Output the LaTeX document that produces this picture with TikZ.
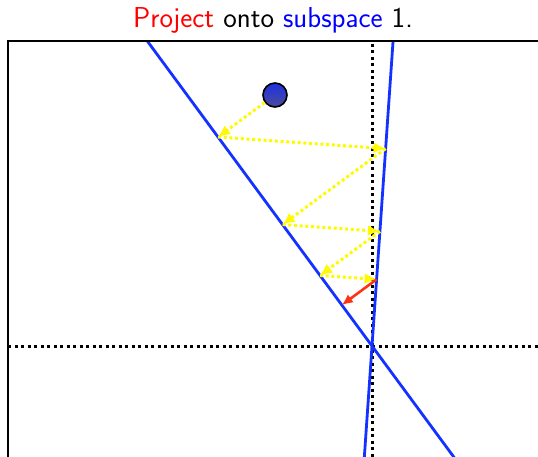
\documentclass[tikz,border=0pt]{standalone}
\usepackage{fontspec}
\usetikzlibrary{calc,arrows.meta}
\definecolor{lineblue}{RGB}{20,50,255}
\definecolor{projyellow}{RGB}{255,250,0}
\definecolor{projred}{RGB}{255,50,20}
\definecolor{titleblue}{RGB}{0,0,255}
\definecolor{titlered}{RGB}{255,0,0}
\definecolor{balltop}{RGB}{30,50,225}
\definecolor{ballbottom}{RGB}{75,75,155}
\begin{document}
\begin{tikzpicture}[x=1pt,y=-1pt,
  axis/.style={line width=3pt, dash pattern=on 3pt off 3.5pt},
  subspace/.style={draw=lineblue, line width=2.8pt},
  yproj/.style={draw=projyellow, line width=3pt, dash pattern=on 3pt off 2.7pt, -{Latex[length=12pt,width=11pt]}},
  rproj/.style={draw=projred, line width=2.6pt, -{Latex[length=11pt,width=10pt]}},
  ballstyle/.style={circle, draw=black, line width=1.6pt, minimum size=24pt, inner sep=0pt, top color=balltop, bottom color=ballbottom},
  framestyle/.style={line width=1.6pt}]
\useasboundingbox (0,0) rectangle (538,457);
\node[anchor=base, inner sep=0pt, font=\fontsize{28.8}{34}\selectfont\sffamily] (title) at (273,28)
  {\textcolor{titlered}{Project} onto \textcolor{titleblue}{subspace} 1.};
\coordinate (O) at (372,346);
\coordinate (A1) at (148,42);
\coordinate (A2) at (393,42);
\coordinate (FL) at (8,346);
\coordinate (FR) at (540,346);
\coordinate (FT) at (372,44);
\coordinate (FB) at (372,460);
\coordinate (C1) at (8,460);
\coordinate (C2) at (8,41);
\coordinate (C3) at (540,41);
\begin{scope}
  \clip (8,41) rectangle (540,460);
  \draw[axis] (FL) -- (FR);
  \draw[axis] (FT) -- (FB);
  \draw[subspace] ($(O)!1.1!(A1)$) -- ($(O)!-0.5!(A1)$);
  \draw[subspace] ($(O)!1.1!(A2)$) -- ($(O)!-0.5!(A2)$);
\end{scope}
\draw[framestyle] (C1) -- (C2) -- (C3);
\node[ballstyle] (ball) at (275,95) {};
\coordinate (P1) at ($(O)!(ball.center)!(A1)$);
\coordinate (Q1) at ($(O)!(P1)!(A2)$);
\coordinate (P2) at ($(O)!(Q1)!(A1)$);
\coordinate (Q2) at ($(O)!(P2)!(A2)$);
\coordinate (P3) at ($(O)!(Q2)!(A1)$);
\coordinate (Q3) at ($(O)!(P3)!(A2)$);
\coordinate (P4) at ($(O)!(Q3)!(A1)$);
\draw[yproj] (ball) -- (P1);
\draw[yproj] (P1) -- (Q1);
\draw[yproj] (Q1) -- (P2);
\draw[yproj] (P2) -- (Q2);
\draw[yproj] (Q2) -- (P3);
\draw[yproj] (P3) -- (Q3);
\draw[rproj] (Q3) -- (P4);
\end{tikzpicture}
\end{document}
